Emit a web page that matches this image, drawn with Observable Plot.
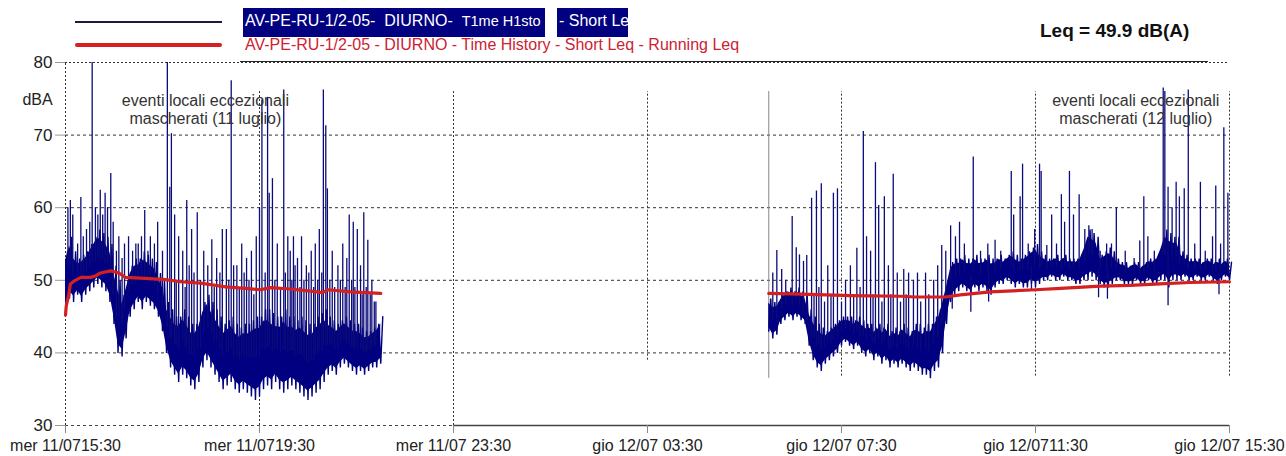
<!DOCTYPE html>
<html>
<head>
<meta charset="utf-8">
<script src="https://cdn.jsdelivr.net/npm/d3@7"></script>
<script src="https://cdn.jsdelivr.net/npm/@observablehq/plot@0.6"></script>
<style>
  html, body { margin: 0; padding: 0; background: #fff; overflow: hidden; }
  #wrap { position: relative; width: 1286px; height: 456px; font-family: "Liberation Sans", Arial, sans-serif; }
  #legend { position: relative; width: 1286px; height: 52px; }
  #legend > * { position: absolute; white-space: pre; }
  .t16 { font-size: 16px; line-height: 18px; }
  .small { font-size: 14.5px; }
</style>
</head>
<body>
<div id="wrap">
  <div id="legend">
    <div style="left:240px;top:0;width:968px;height:61px;border-bottom:1.5px solid #222;z-index:2"></div>
    <div style="left:75px;top:21px;width:147px;height:1.5px;background:#1c1c3c"></div>
    <div style="left:243px;top:8px;width:302px;height:29px;background:#000080"></div>
    <div style="left:557px;top:8px;width:71px;height:29px;background:#000080"></div>
    <span class="t16" style="left:245px;top:12px;color:#fff"><span id="leg1a"></span><span id="leg1t" class="small"></span></span>
    <span id="leg1b" class="t16" style="left:559px;top:12px;color:#fff"></span>
    <div style="left:75px;top:43px;width:147px;height:4px;background:#d42020;border-radius:2px"></div>
    <span id="leg2" class="t16" style="left:245px;top:36px;color:#cc2233"></span>
    <span id="leq" style="left:1040px;top:20px;font-size:19px;line-height:22px;font-weight:bold;color:#111"></span>
  </div>
  <div id="chart"></div>
</div>
<script>
// ---------------- DATA ----------------
const legendSeries1a = "AV-PE-RU-1/2-05-  DIURNO-  ";
const legendSeries1aTail = "T1me H1sto";
const legendSeries1b = "- Short Le";
const legendSeries2 = "AV-PE-RU-1/2-05 - DIURNO - Time History - Short Leq - Running Leq";
const leqLabel = "Leq = 49.9 dB(A)";

const xDomain = ["11 15:30", "12 15:30"];
const yDomain = [30, 80];
const yTicks = [30, 40, 50, 60, 70, 80];
const gridY = [70, 60, 50, 40];
const xTicks = ["11 15:30", "11 19:30", "11 23:30", "12 03:30", "12 07:30", "12 11:30", "12 15:30"];
const xTickLabels = ["mer 11/0715:30", "mer 11/0719:30", "mer 11/07 23:30", "gio 12/07 03:30", "gio 12/07 07:30", "gio 12/0711:30", "gio 12/07 15:30"];
const vGridTop = [80, 76, 76, 76, 76, 76, 76];
const vGridBottom = [30, 30, 30, 39, 36.8, 36.8, 36.8];
const segment2Start = "12 06:00";
const segment2MarkerRange = [36.5, 76];

const binMinutes = 5;
// Time history (short Leq) – dense band per 5‑minute bin: lower and upper envelope, dB(A)
const seg1Start = "11 15:30";
const seg1Low = [
  45.5, 47.5, 47, 48, 47, 48, 48.5, 49, 49.5, 49,
  48.5, 47, 44, 40, 39.5, 42, 45, 46, 47, 46,
  47, 46.5, 46, 45, 43, 40, 38, 37, 36, 37,
  36.5, 35.5, 35, 36, 38, 39, 38, 37, 36, 35,
  35.5, 36, 35, 34.5, 35, 34.5, 34, 33.5, 34, 35,
  35.5, 35, 36, 35, 34.5, 35, 35.5, 35, 34.5, 34,
  33.5, 34, 34.5, 35, 36, 37, 37.5, 37, 38, 38.5,
  38, 37.5, 37, 37.5, 37, 37.5, 38, 38, 38.5];
const seg1High = [
  54, 56, 54, 53, 53.5, 54, 55, 56, 57, 56.5,
  56, 55, 52, 50, 48, 50, 52, 53, 53, 54,
  53.5, 53, 52.5, 51, 50, 47, 46, 45, 45, 46,
  45, 44, 44, 45, 47, 48, 47, 46, 45, 44,
  44.5, 45, 44, 43.5, 44, 44, 44.5, 45, 45, 46,
  46, 45.5, 45, 45, 46, 45, 45, 44.5, 45, 44.5,
  44, 44, 45, 45.5, 46, 45, 44.5, 44, 44.5, 45,
  44.5, 44, 44, 43.5, 43, 43, 43.5, 44, 45];
const seg2Start = "12 06:00";
const seg2Low = [
  43, 42, 42.5, 44, 44.5, 45, 44.5, 45, 44.5, 44,
  41, 39, 38, 37.5, 38.5, 39, 39.5, 40, 41, 41.5,
  41, 40.5, 41, 40, 39.5, 40, 39, 39.5, 38.5, 39,
  38, 38.5, 38, 38.5, 38, 37.5, 38, 37.5, 37, 37,
  36.5, 37.5, 38, 40, 44, 47, 48, 48.5, 49, 48.5,
  48, 49, 48.5, 49, 48.5, 48, 49, 49.5, 49.5, 50,
  49.5, 49, 49.5, 49, 49, 49.5, 49, 49.5, 50, 50,
  50.5, 50, 50, 50.5, 50, 50, 49.5, 49.5, 50, 50,
  50.5, 50, 49.5, 49, 49, 49.5, 50, 50, 49.5, 49.5,
  49.5, 50, 49.5, 49.5, 50, 49.5, 49.5, 50, 50, 49,
  50, 50, 50, 50.5, 50, 50, 50.5, 50, 50, 50.5,
  50, 49.5, 50, 50.5, 50];
const seg2High = [
  47.5, 47, 47, 48, 48.5, 49, 48.5, 49, 48.5, 48,
  46, 45, 44, 43.5, 43, 43.5, 44, 44.5, 45, 45,
  45, 44.5, 45, 44.5, 44, 44, 43.5, 44, 43.5, 44,
  43, 43.5, 43, 44, 43.5, 43, 44, 44, 43.5, 44,
  44, 45, 46, 48, 50, 52.5, 53, 53, 53.5, 53,
  53, 53.5, 53, 53, 53.5, 53, 53, 53.5, 53, 53.5,
  54, 53.5, 53, 53.5, 54, 54.5, 55, 54, 53.5, 53,
  53, 53.5, 53, 53.5, 53, 53, 53, 53.5, 55, 57,
  56.5, 56, 53.5, 54, 54.5, 54, 53, 52.5, 52.5, 52,
  52.5, 52.5, 52, 52.5, 53, 53, 53.5, 55, 57, 56.5,
  56, 56, 54, 53.5, 53, 53, 53, 52.5, 53, 53,
  52.5, 53, 52.5, 53, 52.5];

// Isolated peaks of the time history (time, peak dB(A))
const spikeTimes = [
  "11 15:33","11 15:36","11 15:39","11 15:45","11 15:49","11 15:52","11 15:56","11 16:00","11 16:03","11 16:07",
  "11 16:10","11 16:13","11 16:16","11 16:19","11 16:22","11 16:26","11 16:29","11 16:33","11 16:36","11 16:40",
  "11 16:43","11 16:48","11 16:53","11 16:57","11 17:00","11 17:04","11 17:08","11 17:12","11 17:15","11 17:20",
  "11 17:24","11 17:30","11 17:36","11 17:39","11 17:41","11 17:45","11 17:47","11 17:50","11 17:55","11 17:58",
  "11 18:00","11 18:03","11 18:06","11 18:09","11 18:13","11 18:17","11 18:21","11 18:26","11 18:31","11 18:34",
  "11 18:37","11 18:41","11 18:44","11 18:49","11 18:52","11 18:55","11 18:58","11 19:02","11 19:05","11 19:08",
  "11 19:11","11 19:14","11 19:17","11 19:20","11 19:23","11 19:26","11 19:30","11 19:33","11 19:37","11 19:40",
  "11 19:42","11 19:46","11 19:49","11 19:52","11 19:56","11 20:00","11 20:02","11 20:05","11 20:08","11 20:10",
  "11 20:12","11 20:14","11 20:17","11 20:20","11 20:22","11 20:25","11 20:28","11 20:31","11 20:34","11 20:37",
  "11 20:39","11 20:42","11 20:44","11 20:47","11 20:49","11 20:52","11 20:54","11 20:57","11 21:00","11 21:03",
  "11 21:07","11 21:10","11 21:13","11 21:16","11 21:18","11 21:21","11 21:24","11 21:26","11 21:28","11 21:31",
  "11 21:35","11 21:37","11 21:39","11 21:42","11 21:44","11 21:47","11 21:49","11 21:52","11 21:54",
  "12 06:05","12 06:10","12 06:16","12 06:21","12 06:29","12 06:34","12 06:38","12 06:43","12 06:47","12 06:53",
  "12 06:56","12 06:59","12 07:02","12 07:05","12 07:09","12 07:13","12 07:17","12 07:20","12 07:25","12 07:30",
  "12 07:35","12 07:41","12 07:45","12 07:49","12 07:53","12 07:57","12 08:01","12 08:06","12 08:09","12 08:12",
  "12 08:16","12 08:20","12 08:23","12 08:28","12 08:31","12 08:34","12 08:39","12 08:43","12 08:47","12 08:50",
  "12 08:53","12 08:59","12 09:04","12 09:08","12 09:14","12 09:18","12 09:24","12 09:29","12 09:34","12 09:39",
  "12 09:45","12 09:51","12 09:56","12 10:02","12 10:13","12 10:22","12 10:31","12 10:40","12 10:47","12 11:00",
  "12 11:03","12 11:11","12 11:14","12 11:21","12 11:29","12 11:35","12 11:37","12 11:44","12 11:50","12 11:56",
  "12 12:02","12 12:06","12 12:12","12 12:17","12 12:24","12 12:31","12 12:36","12 12:40","12 12:50","12 12:58",
  "12 13:04","12 13:10","12 13:21","12 13:32","12 13:39","12 13:44","12 13:49","12 13:57","12 14:08","12 14:10",
  "12 14:14","12 14:19","12 14:24","12 14:28","12 14:34","12 14:39","12 14:47","12 14:54","12 15:00","12 15:09",
  "12 15:13","12 15:19","12 15:23","12 15:28"];
const spikePeaks = [
  60, 61, 59, 55, 61.4, 56, 57, 58, 80, 60,
  59, 62.4, 59, 62, 60, 64.7, 58, 54, 56, 53,
  55, 56, 54, 55, 55, 56, 59.6, 54, 56, 55,
  58, 54, 80, 62.8, 70.2, 59, 50, 56, 54, 49,
  61, 52, 57, 51, 59.3, 50, 54, 52, 55.6, 49,
  53, 51, 57, 57, 50, 77.5, 52, 52, 49, 55,
  51, 53, 50, 54, 48, 56, 60, 74.8, 51, 75.2,
  62, 64, 50, 55, 49, 76.2, 51, 56, 54, 50,
  56, 52, 53, 49, 56, 50, 52, 51, 54, 49,
  55, 50, 57, 51, 76.2, 71.3, 62.6, 50, 54, 49,
  52, 50, 55, 49, 53, 59, 50, 58, 49, 57,
  52, 48, 59.3, 49, 55.5, 48, 50, 47, 47,
  51, 54.1, 51.5, 50, 58.8, 54.5, 53.5, 52.6, 53.4, 61.3,
  48, 62.3, 49, 63.3, 47, 52, 48, 62, 62.6, 47,
  50, 52, 48, 54.4, 49, 70.5, 56, 54, 48, 66.2,
  60.3, 47, 61.5, 52, 48, 64.6, 51, 47, 51.5, 48,
  51, 50, 51, 47, 51, 48, 50, 52, 54.8, 54,
  57.5, 56, 58, 55, 67, 54, 55, 55.5, 54, 65,
  59, 61.5, 66, 55, 57, 66, 65, 54.8, 59, 55,
  61.8, 58, 65, 59, 61.8, 57, 57.5, 57, 54, 55,
  55, 60, 54, 53, 55.4, 61.5, 56, 54, 76.5, 76,
  62.8, 60, 63.5, 61.5, 62.6, 76.2, 55, 63.5, 54, 56,
  63, 55, 71, 62];

// Short downward dips below the band (time, minimum dB(A))
const dipTimes = ["12 09:47", "12 10:10", "12 10:32", "12 11:25", "12 12:48", "12 12:59", "12 14:14", "12 15:17"];
const dipMins = [46, 45.6, 47, 48.5, 47.6, 47.4, 46.5, 48];

// Running Leq (red)
const leqTimes = [
  "11 15:30","11 15:31","11 15:34","11 15:36","11 15:42","11 15:49","11 16:01","11 16:07","11 16:13","11 16:26",
  "11 16:36","11 16:44","11 17:03","11 17:34","11 17:52","11 18:17","11 18:48","11 19:13","11 19:31","11 19:44",
  "11 20:08","11 20:33","11 20:48","11 20:55","11 21:23","11 22:00",
  "12 06:00","12 06:40","12 07:41","12 08:43","12 09:02","12 09:39","12 09:57","12 10:34","12 11:30","12 12:01",
  "12 12:50","12 13:27","12 14:04","12 14:41","12 15:30"];
const leqValues = [
  45.2, 46.5, 48, 49.5, 50, 50.4, 50.4, 50.6, 51, 51.3,
  51, 50.4, 50.3, 50.1, 49.8, 49.6, 49.1, 48.9, 48.7, 49,
  48.8, 48.5, 48.3, 48.7, 48.4, 48.2,
  48.2, 48.1, 47.9, 47.8, 47.7, 47.7, 48, 48.4, 48.7, 48.9,
  49.2, 49.3, 49.5, 49.7, 49.8];

const noteTexts = ["eventi locali eccezionali\nmascherati (11 luglio)", "eventi locali eccezionali\nmascherati (12 luglio)"];
const noteTimes = ["11 18:23", "12 13:34"];
const noteY = [73.6, 73.6];
const unitLabel = "dBA";
const unitY = 74.8;

// ---------------- BUILD ----------------
const parse = d3.timeParse("%Y-%m-%d %H:%M");
const T = s => parse("2007-07-" + s);

document.getElementById("leg1a").textContent = legendSeries1a;
document.getElementById("leg1t").textContent = legendSeries1aTail;
document.getElementById("leg1b").textContent = legendSeries1b;
document.getElementById("leg2").textContent = legendSeries2;
document.getElementById("leq").textContent = leqLabel;

const bins = [];
[[seg1Start, seg1Low, seg1High, 1], [seg2Start, seg2Low, seg2High, 2]].forEach(([s, lo, hi, seg]) => {
  const t0 = T(s);
  lo.forEach((v, i) => bins.push({t: d3.timeMinute.offset(t0, i * binMinutes), low: v, high: hi[i], seg}));
});
// sawtooth trace through each bin's lower and upper value, like the raw time history
const trace = bins.flatMap(b => [
  {t: b.t, v: b.low, seg: b.seg},
  {t: d3.timeSecond.offset(b.t, binMinutes * 30), v: b.high, seg: b.seg}
]);
const core = bins.map(b => ({t: b.t, seg: b.seg, lo: b.low + 0.12 * (b.high - b.low), hi: b.high - 0.15 * (b.high - b.low)}));
const nearestBin = t => bins.reduce((a, b) => Math.abs(b.t - t) < Math.abs(a.t - t) ? b : a);

const spikes = spikeTimes.map((s, i) => {
  const t = T(s), b = nearestBin(t);
  return {t, base: (b.low + b.high) / 2, peak: spikePeaks[i]};
});
const dips = dipTimes.map((s, i) => {
  const t = T(s), b = nearestBin(t);
  return {t, base: (b.low + b.high) / 2, min: dipMins[i]};
});
const leq = leqTimes.map((s, i) => ({t: T(s), v: leqValues[i], seg: s.slice(0, 2)}));
const vgrid = xTicks.map((s, i) => ({t: T(s), top: vGridTop[i], bottom: vGridBottom[i]}));
const notes = noteTexts.map((txt, i) => ({t: T(noteTimes[i]), y: noteY[i], text: txt}));
const tickDates = xTicks.map(T);
const labelMap = new Map(tickDates.map((d, i) => [+d, xTickLabels[i]]));

const navy = "#000080";
const chart = Plot.plot({
  width: 1286,
  height: 404,
  marginLeft: 65,
  marginRight: 57,
  marginTop: 10,
  marginBottom: 31,
  style: {fontFamily: "'Liberation Sans', Arial, sans-serif", fontSize: "16px", color: "#222", background: "#fff", overflow: "visible"},
  x: {type: "time", domain: xDomain.map(T)},
  y: {domain: yDomain},
  marks: [
    Plot.ruleY(gridY, {stroke: "#333", strokeDasharray: "3,3", strokeWidth: 1}),
    Plot.ruleY([80], {stroke: "#333", strokeDasharray: "2,2", strokeWidth: 1}),
    Plot.ruleY([30], {stroke: "#444", strokeDasharray: "3,3", strokeWidth: 1}),
    Plot.ruleY([30], {x1: tickDates[2], x2: tickDates[6], stroke: "#444", strokeWidth: 1.5}),
    Plot.ruleX(vgrid, {x: "t", y1: "bottom", y2: "top", stroke: "#333", strokeDasharray: "2,2", strokeWidth: 1}),
    Plot.ruleX([T(segment2Start)], {y1: segment2MarkerRange[0], y2: segment2MarkerRange[1], stroke: "#888", strokeWidth: 1}),
    Plot.areaY(core, {x: "t", y1: "lo", y2: "hi", z: "seg", fill: navy, curve: "linear"}),
    Plot.line(trace, {x: "t", y: "v", z: "seg", stroke: navy, strokeWidth: 1.4, strokeLinejoin: "miter"}),
    Plot.ruleX(spikes, {x: "t", y1: "base", y2: "peak", stroke: "#0b0b7a", strokeWidth: 1.3}),
    Plot.ruleX(dips, {x: "t", y1: "base", y2: "min", stroke: "#0b0b7a", strokeWidth: 1.3}),
    Plot.line(leq, {x: "t", y: "v", z: "seg", stroke: "#d42020", strokeWidth: 3.2}),
    Plot.text(notes, {x: "t", y: "y", text: "text", lineHeight: 1.13, fill: "#333", fontSize: 16}),
    Plot.text([unitLabel], {frameAnchor: "left", y: [unitY], text: d => d, dx: -28, textAnchor: "middle", fontSize: 16, fill: "#222"}),
    Plot.axisY({ticks: yTicks, tickSize: 10, tickPadding: 3, stroke: "#999", fontSize: 17, label: null}),
    Plot.axisX({ticks: tickDates, tickFormat: d => labelMap.get(+d), tickSize: 8, tickPadding: 6, stroke: "#888", fontSize: 16, label: null})
  ]
});
document.getElementById("chart").appendChild(chart);
</script>
</body>
</html>
